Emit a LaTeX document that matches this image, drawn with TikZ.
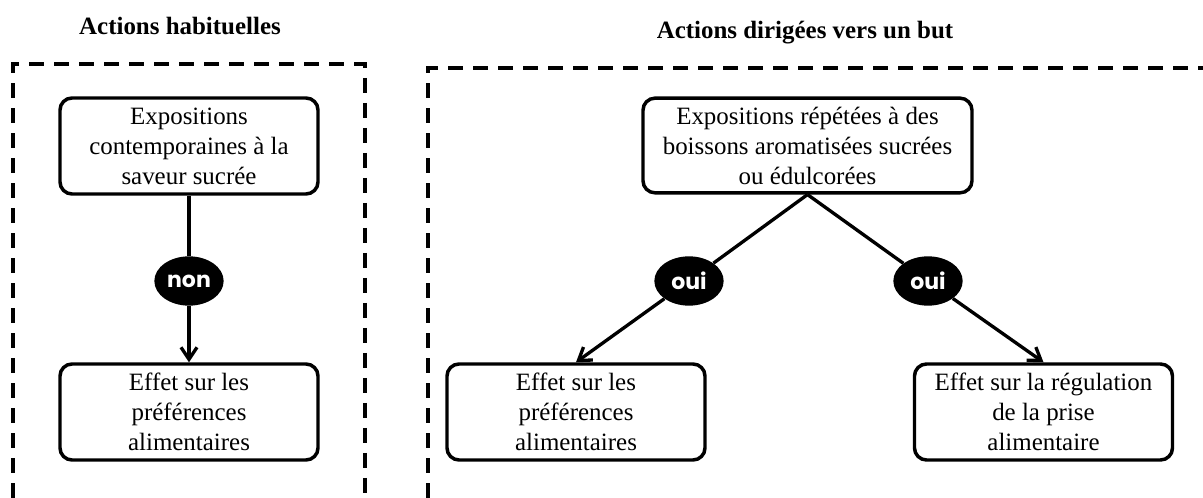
\documentclass[tikz,border=0pt]{standalone}
\usepackage{fontspec}
\setmainfont{Liberation Serif}
\newfontfamily\tagfont{Poppins}
\usetikzlibrary{arrows.meta, positioning, shapes.geometric}

\begin{document}
\begin{tikzpicture}[x=0.75pt, y=-0.75pt, >={Straight Barb[length=9pt, width=12pt]},
  box/.style={draw, line width=2.6pt, rounded corners=9pt, align=center,
    minimum width=193.5pt, minimum height=72pt, inner sep=2pt,
    font=\fontsize{18.7}{22.5}\selectfont},
  tag/.style={ellipse, fill=black, text=white, inner sep=0pt,
    minimum width=52pt, minimum height=37pt, font=\tagfont\bfseries\fontsize{16.5}{16.5}\selectfont},
  frame/.style={line width=3pt, dash pattern=on 11.25pt off 7.5pt},
  link/.style={line width=2.5pt},
  heading/.style={font=\bfseries\fontsize{18.7}{22}\selectfont}]
  \useasboundingbox (0,0) rectangle (1203,498);

  % Habitual actions panel
  \node[heading] (habit) at (180,26) {Actions habituelles};
  \draw[frame] (13,498) -- (13,64) -- (365,64) -- (365,498);
  \node[box] (expo) at (189,146) {Expositions\\contemporaines à la\\saveur sucrée};
  \node[box] (prefA) at (189,412) {Effet sur les\\préférences\\alimentaires};
  \node[tag] (non) at (189,281) {non};
  \draw[link] (expo) -- (non);
  \draw[link, ->] (non) -- (prefA);

  % Goal-directed actions panel
  \node[heading] (goal) at (805,33) {Actions dirigées vers un but};
  \draw[frame] (428,498) -- (428,68) -- (1203,68);
  \node[box, minimum width=246.75pt, minimum height=71pt] (boiss) at (807.5,145.5)
    {Expositions répétées à des\\boissons aromatisées sucrées\\ou édulcorées};
  \node[box] (prefB) at (576,412) {Effet sur les\\préférences\\alimentaires};
  \node[box] (regul) at (1043.5,412) {Effet sur la régulation\\de la prise\\alimentaire};
  \node[tag] (ouiA) at (689,281) {oui};
  \node[tag] (ouiB) at (928,281) {oui};
  \draw[link] (boiss.south) -- (ouiA);
  \draw[link, ->] (ouiA) -- (prefB.north);
  \draw[link] (boiss.south) -- (ouiB);
  \draw[link, ->] (ouiB) -- (regul.north);
\end{tikzpicture}
\end{document}
